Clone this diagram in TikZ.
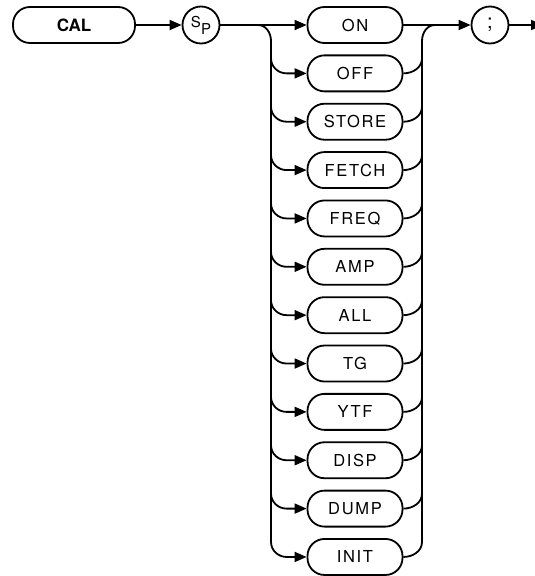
\documentclass[tikz,border=0pt]{standalone}
\usepackage{fontspec}
\setmainfont{TeX Gyre Heros}
\newfontfamily\kwfont[LetterSpace=10]{TeX Gyre Heros}
\usetikzlibrary{arrows.meta,positioning,calc}

\begin{document}
\begin{tikzpicture}[x=1pt,y=-1pt,>={Triangle[length=12pt,width=10pt]},line width=1.8pt,
    kw/.style={draw,rounded corners=17pt,minimum width=95pt,minimum height=36pt,inner sep=0pt,
      font=\kwfont\fontsize{16.5}{16.5}\selectfont},
    sym/.style={draw,circle,minimum size=37pt,inner sep=0pt}]
    \useasboundingbox (0,0) rectangle (535,576);

    % Command and separator
    \node[kw,minimum width=122pt,font=\bfseries\fontsize{17}{17}\selectfont] (cal) at (74,25) {CAL};
    \node[sym] (sp) at (201,25) {\fontsize{15}{15}\selectfont S\raisebox{-7pt}{P}};
    \node[sym] (semi) at (490,25) {\fontsize{20}{20}\selectfont ;};
    \coordinate (out) at (543,25);

    % Option boxes
    \foreach \n/\t [count=\i from 0] in {on/ON,off/OFF,store/STORE,fetch/FETCH,freq/FREQ,amp/AMP,
        all/ALL,tg/TG,ytf/YTF,disp/DISP,dump/DUMP,init/INIT} {
        \node[kw] (\n) at (355,25+48.36*\i) {\t};
    }

    % Bus lines
    \coordinate (lbus) at (271,0);
    \coordinate (rbus) at (422,0);

    \draw[->] (cal) -- (sp);
    \draw[->] (sp) -- (on);
    \draw[->] (on) -- (semi);
    \draw[->] (semi) -- (out);

    \draw ($(lbus|-on.west)+(-13,0)$) to[out=0,in=90] ($(lbus|-on.west)+(0,16)$)
        -- ($(lbus|-init.west)+(0,-15)$);
    \draw ($(rbus|-init.east)+(0,-15)$) -- ($(rbus|-on.east)+(0,16)$)
        to[out=90,in=180] ($(rbus|-on.east)+(13,0)$);
    \foreach \n in {off,store,fetch,freq,amp,all,tg,ytf,disp,dump,init} {
        \draw[->] ($(lbus|-\n.west)+(0,-15)$) to[out=-90,in=180] ($(\n.west)+(-20,0)$) -- (\n.west);
        \draw (\n.east) to[out=0,in=-90] ($(rbus|-\n.east)+(0,-15)$);
    }
\end{tikzpicture}
\end{document}
